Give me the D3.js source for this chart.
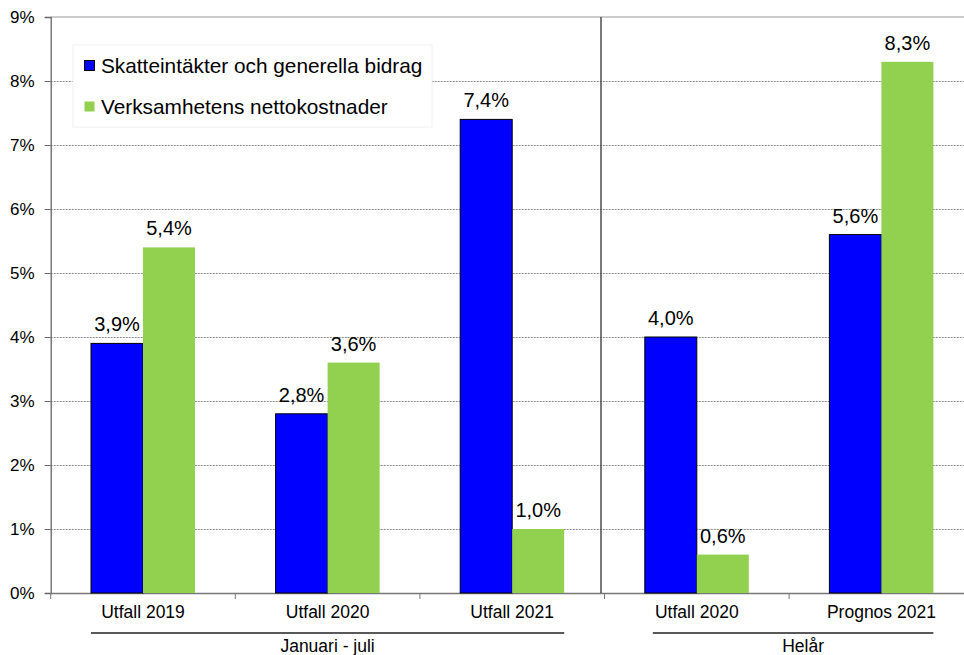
<!DOCTYPE html>
<html>
<head>
<meta charset="utf-8">
<title>Skatteintäkter och nettokostnader</title>
<script src="https://d3js.org/d3.v7.min.js"></script>
<style>
 body { margin: 0; background: #fff; }
 text { font-family: "Liberation Sans", Arial, sans-serif; fill: #000; }
 .tick-label { font-size: 17px; }
 .cat-label { font-size: 17.5px; }
 .val-label { font-size: 20px; }
 .legend-label { font-size: 20.8px; }
 .group-label { font-size: 17.5px; }
 .grid { stroke: #8c8c8c; stroke-width: 1; stroke-dasharray: 2,1; }
</style>
</head>
<body>
<div id="chart"></div>
<script>
// data
var categories = ["Utfall 2019", "Utfall 2020", "Utfall 2021", "Utfall 2020", "Prognos 2021"];
var seriesNames = ["Skatteintäkter och generella bidrag", "Verksamhetens nettokostnader"];
var skatteintakter = [3.9, 2.8, 7.4, 4.0, 5.6];
var nettokostnader = [5.4, 3.6, 1.0, 0.6, 8.3];
var yTicks = [0, 1, 2, 3, 4, 5, 6, 7, 8, 9];
var groupNames = ["Januari - juli", "Helår"];
var groupFirst = [0, 3];
var groupLast = [2, 4];

var colors = ["#0000ff", "#92d050"];
var width = 964, height = 655;
var plot = {left: 50.7, top: 17, bottom: 593, right: 973.7};

var svg = d3.select("#chart").append("svg")
  .attr("width", width)
  .attr("height", height);

var x = d3.scaleBand()
  .domain(d3.range(categories.length))
  .range([plot.left, plot.right])
  .padding(0);

var pairW = x.bandwidth() * 0.5634;
var x1 = d3.scaleBand()
  .domain([0, 1])
  .range([(x.bandwidth() - pairW) / 2, (x.bandwidth() + pairW) / 2])
  .padding(0);

var y = d3.scaleLinear().domain([0, 9]).range([plot.bottom, plot.top]);

var fmt = function(v) { return v.toFixed(1).replace(".", ",") + "%"; };

// gridlines
svg.append("g").selectAll("line")
  .data(yTicks.filter(function(d) { return d > 0 && d < 9; }))
  .enter().append("line")
  .attr("class", "grid")
  .attr("x1", plot.left).attr("x2", width)
  .attr("y1", function(d) { return Math.round(y(d)) + 0.5; })
  .attr("y2", function(d) { return Math.round(y(d)) + 0.5; });

// top border
svg.append("line")
  .attr("x1", plot.left).attr("x2", width)
  .attr("y1", y(9)).attr("y2", y(9))
  .attr("stroke", "#9a9a9a").attr("stroke-width", 1.2);

// legend box (covers gridlines)
var legend = svg.append("g");
legend.append("rect")
  .attr("x", 73).attr("y", 45)
  .attr("width", 359).attr("height", 82)
  .attr("fill", "#fff")
  .attr("stroke", "#f0f0f0");

// y axis
var yAxis = d3.axisLeft(y)
  .tickValues(yTicks)
  .tickSize(6)
  .tickFormat(function(d) { return d + "%"; });
var gy = svg.append("g")
  .attr("transform", "translate(" + plot.left + ",0)")
  .call(yAxis);
gy.select(".domain").attr("stroke", "#666").attr("stroke-width", 1.3);
gy.selectAll(".tick line").attr("stroke", "#666");
gy.selectAll(".tick text")
  .attr("class", "tick-label")
  .attr("x", -16)
  .attr("fill", "#000")
  .attr("font-family", null)
  .attr("font-size", null);

// x axis
var xAxis = d3.axisBottom(x)
  .tickSize(0)
  .tickFormat(function(i) { return categories[i]; });
var gx = svg.append("g")
  .attr("transform", "translate(0," + plot.bottom + ")")
  .call(xAxis);
gx.select(".domain").attr("stroke", "#777").attr("stroke-width", 1.3);
gx.selectAll(".tick text")
  .attr("class", "cat-label")
  .attr("y", 25)
  .attr("dy", 0)
  .attr("fill", "#000")
  .attr("font-family", null)
  .attr("font-size", null);
gx.selectAll(".sep")
  .data(d3.range(categories.length))
  .enter().append("line")
  .attr("class", "sep")
  .attr("x1", function(i) { return x(i); })
  .attr("x2", function(i) { return x(i); })
  .attr("y1", 0).attr("y2", 6)
  .attr("stroke", "#777");

// bars
var rows = categories.map(function(c, i) {
  return {i: i, values: [skatteintakter[i], nettokostnader[i]]};
});
var cat = svg.append("g").selectAll("g")
  .data(rows)
  .enter().append("g")
  .attr("transform", function(d) { return "translate(" + x(d.i) + ",0)"; });

cat.selectAll("rect")
  .data(function(d) { return d.values.map(function(v, s) { return {s: s, v: v}; }); })
  .enter().append("rect")
  .attr("x", function(d) { return x1(d.s); })
  .attr("y", function(d) { return y(d.v); })
  .attr("width", x1.bandwidth())
  .attr("height", function(d) { return y(0) - y(d.v); })
  .attr("fill", function(d) { return colors[d.s]; })
  .attr("stroke", function(d) { return d.s === 0 ? "#000" : "none"; })
  .attr("stroke-width", 1);

cat.selectAll(".val-label")
  .data(function(d) { return d.values.map(function(v, s) { return {s: s, v: v}; }); })
  .enter().append("text")
  .attr("class", "val-label")
  .attr("x", function(d) { return x1(d.s) + x1.bandwidth() / 2; })
  .attr("y", function(d) { return y(d.v) - 12; })
  .attr("text-anchor", "middle")
  .text(function(d) { return fmt(d.v); });

// divider between the two periods
svg.append("line")
  .attr("x1", x(groupFirst[1]) - 3.5).attr("x2", x(groupFirst[1]) - 3.5)
  .attr("y1", plot.top).attr("y2", plot.bottom)
  .attr("stroke", "#333").attr("stroke-width", 1.3);

// group labels
groupNames.forEach(function(name, g) {
  var x0 = x(groupFirst[g]) + x1(0) + (g === 1 ? 8 : 0);
  var xEnd = x(groupLast[g]) + x1(1) + x1.bandwidth();
  svg.append("line")
    .attr("x1", x0).attr("x2", xEnd)
    .attr("y1", 633).attr("y2", 633)
    .attr("stroke", "#222").attr("stroke-width", 1.3);
  svg.append("text")
    .attr("class", "group-label")
    .attr("x", (x0 + xEnd) / 2 + (g === 1 ? 10 : 0))
    .attr("y", 652)
    .attr("text-anchor", "middle")
    .text(name);
});

// legend entries
seriesNames.forEach(function(name, s) {
  legend.append("rect")
    .attr("x", 84.5).attr("y", 60.5 + s * 41)
    .attr("width", 10).attr("height", 10)
    .attr("fill", colors[s])
    .attr("stroke", s === 0 ? "#000" : "none");
  legend.append("text")
    .attr("class", "legend-label")
    .attr("x", 101)
    .attr("y", 72.5 + s * 41)
    .text(name);
});
</script>
</body>
</html>
